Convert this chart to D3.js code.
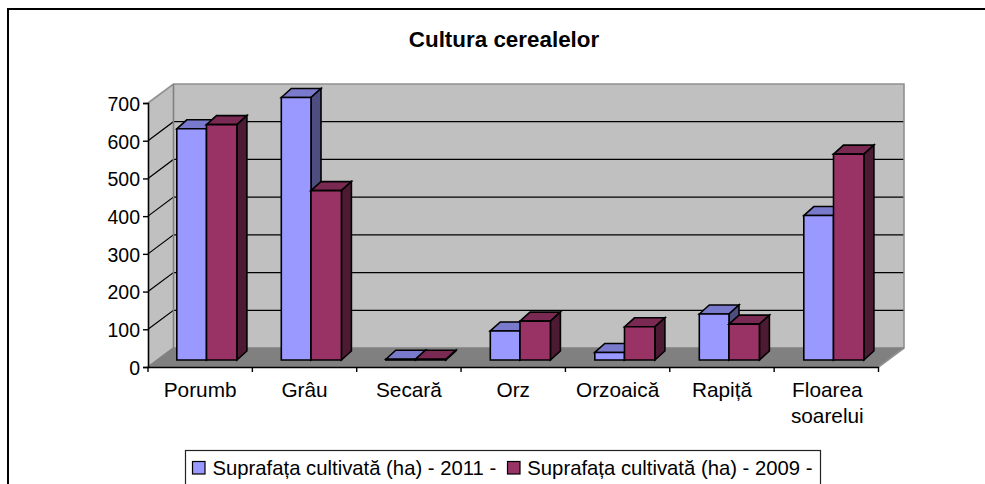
<!DOCTYPE html>
<html><head><meta charset="utf-8">
<style>html,body{margin:0;padding:0;background:#fff}svg{display:block}text{font-family:"Liberation Sans",Arial,sans-serif;fill:#000}</style>
<script src="https://cdn.jsdelivr.net/npm/d3@7"></script></head>
<body><script>
const categories = [["Porumb"],["Grâu"],["Secară"],["Orz"],["Orzoaică"],["Rapiță"],["Floarea","soarelui"]];
const series2011 = [613,696,2,77,20,122,383];
const series2009 = [624,449,2,103,88,95,546];
const seriesNames = ["Suprafața cultivată (ha) - 2011 -","Suprafața cultivată (ha) - 2009 -"];
const yTicks = [0,100,200,300,400,500,600,700];
const title = "Cultura cerealelor";

const W=985,H=484;
const svg=d3.select("body").append("svg").attr("width",W).attr("height",H);
svg.append("path").attr("d",`M8,${H}V9H${W}`).attr("fill","none").attr("stroke","#000").attr("stroke-width",2);

const x=d3.scaleBand().domain(d3.range(categories.length)).range([148,878.5]);
const xBars=d3.scaleBand().domain(d3.range(categories.length)).range([176.8,176.8+7*104.5]);
const y=d3.scaleLinear().domain([0,700]).range([367,103]);
const DX=25.5,DY=-19;
const poly=(p,fill,stroke,sw)=>svg.append("polygon").attr("points",p.map(a=>a.join(",")).join(" ")).attr("fill",fill).attr("stroke",stroke||"none").attr("stroke-width",sw||0);

const x0=x.range()[0],x1=x.range()[1];
poly([[x0,y(0)],[x0+DX,y(0)+DY],[x0+DX,y(700)+DY],[x0,y(700)]],"#c0c0c0");
poly([[x0+DX,y(0)+DY],[x1+DX,y(0)+DY],[x1+DX,y(700)+DY],[x0+DX,y(700)+DY]],"#c0c0c0");
poly([[x0,y(0)],[x0+DX,y(0)+DY],[x1+DX,y(0)+DY],[x1,y(0)]],"#808080");

yTicks.slice(1,-1).forEach(t=>{
  svg.append("path").attr("d",`M${x0},${y(t)}L${x0+DX},${y(t)+DY}L${x1+DX},${y(t)+DY}`).attr("fill","none").attr("stroke","#000").attr("stroke-width",1.2);
});
svg.append("path").attr("d",`M${x0},${y(700)}L${x0+DX},${y(700)+DY}L${x1+DX},${y(700)+DY}L${x1+DX},${y(0)+DY}L${x1},${y(0)}`).attr("fill","none").attr("stroke","#909090").attr("stroke-width",1.6);
svg.append("path").attr("d",`M${x0+DX},${y(700)+DY}L${x0+DX},${y(0)+DY}L${x0},${y(0)}M${x0+DX},${y(0)+DY}L${x1+DX},${y(0)+DY}`).attr("fill","none").attr("stroke","#808080").attr("stroke-width",1.6);

// bars
const base=7,bwA=29.7,bwB=30.4,dx=10,dy=-9;
const by=v=>y(v)-base;
function bar(v,xl,bw,front,top,side){
  const b=by(0),t=by(v),xr=xl+bw;
  poly([[xl,t],[xl+dx,t+dy],[xr+dx,t+dy],[xr,t]],top,"#000",1.6);
  poly([[xr,t],[xr+dx,t+dy],[xr+dx,b+dy],[xr,b]],side,"#000",1.6);
  poly([[xl,t],[xr,t],[xr,b],[xl,b]],front,"#000",1.6);
}
categories.forEach((c,i)=>{
  bar(series2011[i],xBars(i),bwA,"#9999ff","#7a7acc","#4d4d80");
  bar(series2009[i],xBars(i)+bwA,bwB,"#993366","#7a2952","#4d1a33");
});

// axes
const ya=d3.axisLeft(y).tickValues(yTicks).tickSize(5).tickPadding(3);
const yg=svg.append("g").attr("transform",`translate(${x0},0)`).call(ya);
yg.selectAll("text").style("font-size","19.5px").attr("dy","0.38em");
const xa=d3.axisBottom(x).tickSize(0).tickFormat(()=> "");
svg.append("g").attr("transform",`translate(0,${y(0)})`).call(xa);
svg.selectAll("g .domain").attr("stroke","#000").attr("stroke-width",1.6);
yg.selectAll("line").attr("stroke","#000").attr("stroke-width",1.4);
d3.range(categories.length+1).forEach(i=>{
  const tx=i<categories.length?x(i):x1;
  svg.append("line").attr("x1",tx).attr("x2",tx).attr("y1",y(0)).attr("y2",y(0)+5).attr("stroke","#000").attr("stroke-width",1.4);
});
categories.forEach((c,i)=>{
  c.forEach((l,j)=>svg.append("text").attr("x",x(i)+x.bandwidth()/2+(i===6?1:0)).attr("y",397+j*26).attr("text-anchor","middle").style("font-size","20.8px").text(l));
});
svg.append("text").attr("x",504).attr("y",47).attr("text-anchor","middle").style("font-size","22.4px").style("font-weight","bold").text(title);

// legend
svg.append("rect").attr("x",185.5).attr("y",450.5).attr("width",635).attr("height",50).attr("fill","#fff").attr("stroke","#222").attr("stroke-width",1.2);
const lg=[[192.5,"#9999ff",212.5],[507.5,"#993366",527.3]];
seriesNames.forEach((n,i)=>{
  svg.append("rect").attr("x",lg[i][0]).attr("y",461.5).attr("width",12.5).attr("height",12.5).attr("fill",lg[i][1]).attr("stroke","#000").attr("stroke-width",1.2);
  svg.append("text").attr("x",lg[i][2]).attr("y",474.5).style("font-size","20.3px").text(n);
});
</script></body></html>
